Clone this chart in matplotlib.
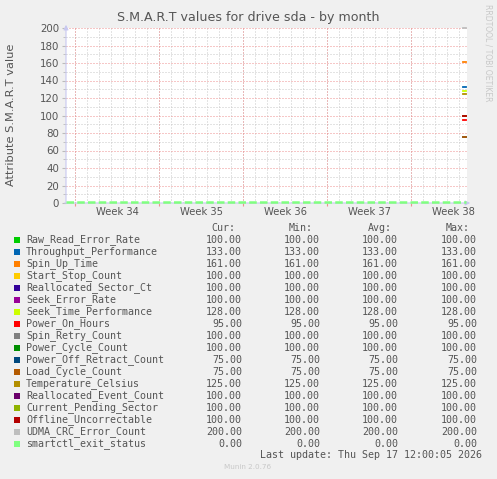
import matplotlib.pyplot as plt
import numpy as np

# S.M.A.R.T attributes (legend order) and their colours
names = ['Raw_Read_Error_Rate', 'Throughput_Performance', 'Spin_Up_Time',
         'Start_Stop_Count', 'Reallocated_Sector_Ct', 'Seek_Error_Rate',
         'Seek_Time_Performance', 'Power_On_Hours', 'Spin_Retry_Count',
         'Power_Cycle_Count', 'Power_Off_Retract_Count', 'Load_Cycle_Count',
         'Temperature_Celsius', 'Reallocated_Event_Count', 'Current_Pending_Sector',
         'Offline_Uncorrectable', 'UDMA_CRC_Error_Count', 'smartctl_exit_status']
colors = ['#00CC00', '#0066B3', '#FF8000', '#FFCC00', '#330099', '#990099',
          '#CCFF00', '#FF0000', '#808080', '#008F00', '#00487D', '#B35A00',
          '#B38F00', '#6B006B', '#8FB300', '#B30000', '#BEBEBE', '#80FF80']
cur = [100, 133, 161, 100, 100, 100, 128, 95, 100, 100, 75, 75, 125, 100, 100, 100, 200, 0]
vmin = [100, 133, 161, 100, 100, 100, 128, 95, 100, 100, 75, 75, 125, 100, 100, 100, 200, 0]
vavg = [100, 133, 161, 100, 100, 100, 128, 95, 100, 100, 75, 75, 125, 100, 100, 100, 200, 0]
vmax = [100, 133, 161, 100, 100, 100, 128, 95, 100, 100, 75, 75, 125, 100, 100, 100, 200, 0]

# time in days from left edge of graph; weeks start at 0.75
week_labels = ['Week 34', 'Week 35', 'Week 36', 'Week 37', 'Week 38']
week_starts = [0.75, 7.75, 14.75, 21.75, 28.75]
t_end = 33.33
recent_t = [33.08, 33.33]          # only the latest samples hold attribute data
exit_t = [0.0, 33.33]              # exit status recorded all month

BG = '#F0F0F0'
TXT = '#555555'

fig = plt.figure(figsize=(4.97, 4.79), dpi=100, facecolor=BG)
W, H = 497, 479
ax = fig.add_axes([66 / W, 1 - 203 / H, 401 / W, 175 / H])
ax.set_facecolor('white')

ax.set_xlim(0, t_end + 0.08)
ax.set_ylim(0, 200)

# grids
for d in np.arange(0.75, t_end, 1.0):
    ax.axvline(d, color='#C8C8C8', lw=0.72, ls=(0, (1, 2)), zorder=1)
for y in range(10, 201, 20):
    ax.axhline(y, color='#C8C8C8', lw=0.72, ls=(0, (1, 2)), zorder=1)
for d in week_starts:
    ax.axvline(d, color='#EE9090', lw=0.72, ls=(0, (1, 2)), zorder=2)
for y in range(20, 201, 20):
    ax.axhline(y, color='#EE9090', lw=0.72, ls=(0, (1, 2)), zorder=2)

for s in ax.spines.values():
    s.set_visible(False)
ax.annotate('', xy=(66 / W, 1 - 22 / H), xytext=(66 / W, 1 - 205 / H), xycoords='figure fraction',
            arrowprops=dict(arrowstyle='-|>', color='#C8C8F0', lw=0.8, mutation_scale=7), zorder=2)
ax.annotate('', xy=(473 / W, 1 - 203 / H), xytext=(62 / W, 1 - 203 / H), xycoords='figure fraction',
            arrowprops=dict(arrowstyle='-|>', color='#C8C8F0', lw=0.8, mutation_scale=7), zorder=2)

# data
for name, c, v in zip(names, colors, cur):
    if name == 'smartctl_exit_status':
        ax.plot(exit_t, [v + 0.6, v + 0.6], color=c, lw=1.8, ls=(0, (3.0, 1.3)), zorder=6, clip_on=False)
    else:
        ax.plot(recent_t, [v, v], color=c, lw=1.3, zorder=4, clip_on=False)

ax.set_yticks(range(0, 201, 20))
ax.set_yticks(range(10, 200, 20), minor=True)
ax.set_xticks(week_starts)
ax.set_xticklabels([])
ax.set_xticks([w + 3.5 for w in week_starts], labels=week_labels, minor=True)
ax.tick_params(axis='y', which='major', length=3, color='#BBBBBB', labelsize=7.4, labelcolor=TXT, pad=2)
ax.tick_params(axis='y', which='minor', length=2, color='#BBBBBB')
ax.tick_params(axis='x', which='major', length=2, color='#EE9090', direction='out')
ax.tick_params(axis='x', which='minor', length=0, labelsize=7.2, labelcolor=TXT, pad=3)

fig.text(248 / W, 1 - 18 / H, 'S.M.A.R.T values for drive sda - by month', ha='center', va='center',
         fontsize=9.1, color=TXT)
fig.text(11 / W, 1 - 115 / H, 'Attribute S.M.A.R.T value', rotation=90, ha='center', va='center',
         fontsize=8.2, color=TXT)
fig.text(488 / W, 1 - 53 / H, 'RRDTOOL / TOBI OETIKER', rotation=270, ha='center', va='center',
         fontsize=5.5, color='#C8C8C8')

# legend table
mono = dict(family='DejaVu Sans Mono', fontsize=7.2, color=TXT, va='center')
hy = 228
for hx, lab in zip([235, 313, 392, 470], ['Cur:', 'Min:', 'Avg:', 'Max:']):
    fig.text(hx / W, 1 - hy / H, lab, ha='right', **mono)
for i, (name, c) in enumerate(zip(names, colors)):
    y = 240 + 12 * i
    fig.patches.append(plt.Rectangle((14 / W, 1 - (y + 3) / H), 6 / W, 6 / H,
                                     transform=fig.transFigure, facecolor=c, edgecolor='none'))
    fig.text(26 / W, 1 - y / H, name, ha='left', **mono)
    for rx, vals in zip([242, 320, 398, 477], [cur, vmin, vavg, vmax]):
        fig.text(rx / W, 1 - y / H, f'{vals[i]:.2f}', ha='right', **mono)
fig.text(482 / W, 1 - 455 / H, 'Last update: Thu Sep 17 12:00:05 2026', ha='right', **mono)
fig.text(248 / W, 1 - 467 / H, 'Munin 2.0.76', ha='center', va='center', fontsize=5.2, color='#C8C8C8')

fig.savefig('out.png', dpi=100, facecolor=BG)
